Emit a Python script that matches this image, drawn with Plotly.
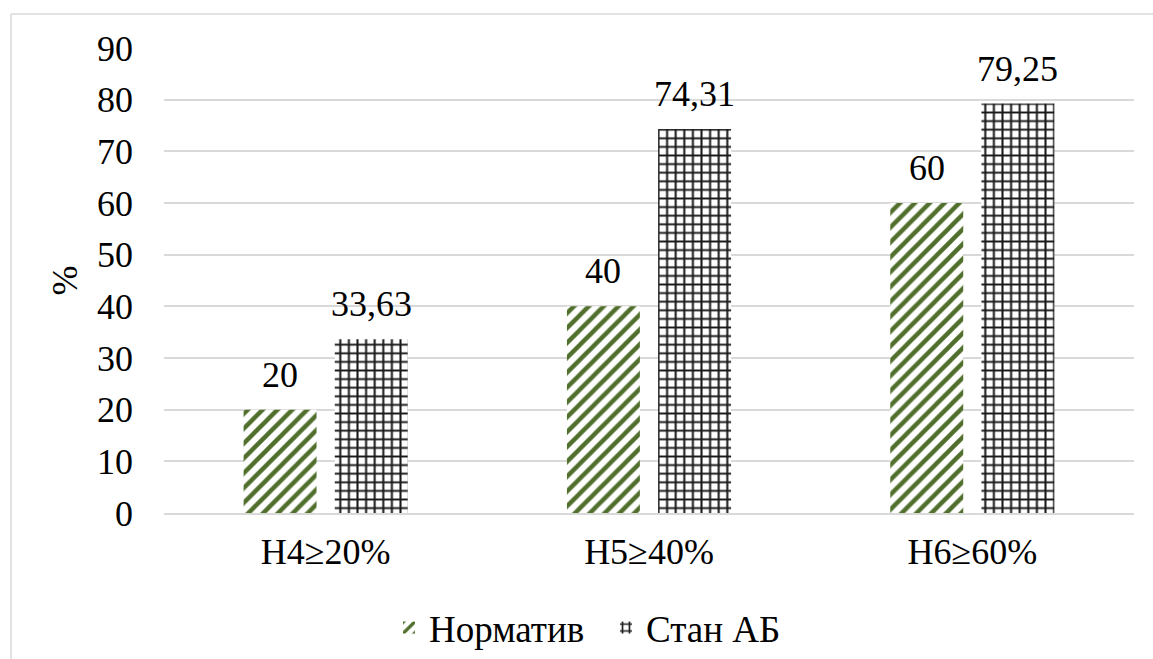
import plotly.graph_objects as go

categories = ["Н4≥20%", "Н5≥40%", "Н6≥60%"]
normatyv = [20, 40, 60]
stan_ab = [33.63, 74.31, 79.25]
series_names = ["Норматив", "Стан АБ"]

FONT = "Times New Roman, Liberation Serif, Tinos, serif"
GREEN = "#516f2c"
GRID = "#d9d9d9"

W, H = 1153, 659
ML, MR, MT, MB = 164, 19, 48, 146
plot_w = W - ML - MR
plot_h = H - MT - MB

BARGAP = 0.436
BARGROUPGAP = 0.2

fig = go.Figure()
fig.add_trace(go.Bar(
    x=categories, y=normatyv, name=series_names[0],
    marker=dict(color="white", line=dict(width=0),
                pattern=dict(shape="/", fgcolor=GREEN, bgcolor="white",
                             size=10.5, solidity=0.42, fillmode="replace")),
))
fig.add_trace(go.Bar(
    x=categories, y=stan_ab, name=series_names[1],
    marker=dict(color="white", line=dict(width=0),
                pattern=dict(shape="+", fgcolor="#1a1a1a", bgcolor="white",
                             size=8.6, solidity=0.42, fillmode="replace")),
))

# value labels above each bar, centred on the bar slot
slot = (1 - BARGAP) / 2
annotations = []
for i, (a, b) in enumerate(zip(normatyv, stan_ab)):
    for off, v in ((-slot / 2, a), (slot / 2, b)):
        annotations.append(dict(
            x=i + off, y=v, xref="x", yref="y",
            text=f"{v:g}".replace(".", ","), showarrow=False,
            yanchor="bottom", yshift=13,
            font=dict(family=FONT, size=36, color="black"),
        ))

# outer chart frame: only its top and left edges fall inside the figure
px = lambda x: (x - ML) / plot_w
py = lambda y: (H - MB - y) / plot_h
frame = dict(color=GRID, width=1.5)
shapes = [
    dict(type="line", xref="paper", yref="paper",
         x0=px(11), x1=px(1160), y0=py(14), y1=py(14), line=frame, layer="below"),
    dict(type="line", xref="paper", yref="paper",
         x0=px(11), x1=px(11), y0=py(14), y1=py(670), line=frame, layer="below"),
]

fig.update_layout(
    width=W, height=H,
    margin=dict(l=ML, r=MR, t=MT, b=MB, autoexpand=False),
    paper_bgcolor="white", plot_bgcolor="white",
    barmode="group", bargap=BARGAP, bargroupgap=BARGROUPGAP,
    font=dict(family=FONT, size=36, color="black"),
    showlegend=True,
    legend=dict(orientation="h", x=px(606), xanchor="center",
                y=py(628), yanchor="middle",
                font=dict(family=FONT, size=37, color="black"),
                itemwidth=30, tracegroupgap=0, entrywidth=172),
    annotations=annotations,
    shapes=shapes,
)
fig.update_yaxes(
    range=[0, 90], dtick=10, showgrid=True, gridcolor=GRID, gridwidth=1.5,
    zeroline=False, showline=False, ticks="", ticklabelstandoff=30,
    tickfont=dict(family=FONT, size=36, color="black"),
    title=dict(text="%", standoff=8, font=dict(family=FONT, size=36, color="black")),
)
fig.update_xaxes(
    showgrid=False, zeroline=False, showline=True, linecolor=GRID, linewidth=1.5,
    ticks="", ticklabelstandoff=6,
    tickfont=dict(family=FONT, size=36, color="black"),
)

fig.write_html("out.html")
